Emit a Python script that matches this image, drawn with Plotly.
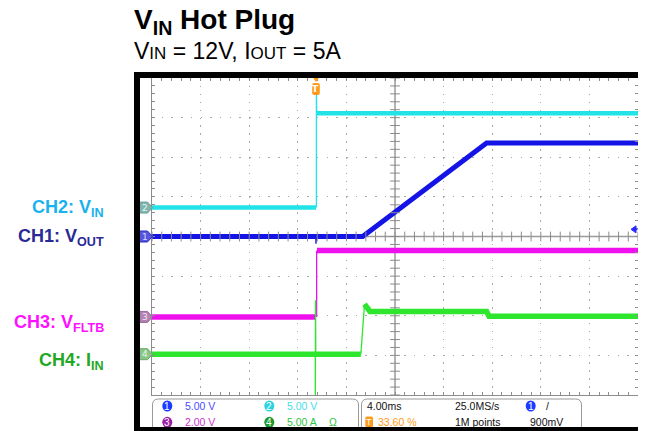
import numpy as np
import plotly.graph_objects as go

# ---------------- scope settings (from the status bar) ----------------
T_DIV_MS = 4.0            # horizontal scale, ms/div
TRIG_POS = 0.336          # trigger position, 33.60 %
N_XDIV, N_YDIV = 10, 8
TRIG_LEVEL_V = 0.9        # CH1 trigger level, 900 mV

CH_SCALES = [5.0, 5.0, 2.0, 5.0]          # CH1 V/div, CH2 V/div, CH3 V/div, CH4 A/div
CH_OFFSETS = [0.0, 0.73, -2.03, -2.97]    # ground marker position, divisions from centre
CH_SCALE_LABELS = ["5.00 V", "5.00 V", "2.00 V", "5.00 A"]

# ---------------- waveforms (time in ms, values in V / A) ----------------
# CH1: VOUT
vout_t = [-13.44, 3.9, 14.1, 26.56]
vout_v = [0.0, 0.0, 11.8, 11.8]
vout_edge_t = [0.05, 0.05, 0.1]
vout_edge_v = [0.0, -0.9, 0.0]
# CH2: VIN
vin_t = [-13.44, 0.06, None, 0.12, 26.56]
vin_v = [0.0, 0.0, None, 11.9, 11.9]
vin_edge_t = [0.09, 0.09, 0.12]
vin_edge_v = [0.0, 14.2, 11.9]
# CH3: VFLTB
fltb_t = [-13.44, 0.06, None, 0.14, 26.56]
fltb_v = [0.0, 0.0, None, 3.35, 3.35]
fltb_edge_t = [0.11, 0.11]
fltb_edge_v = [0.0, 3.35]
# CH4: IIN
iin_t = [-13.44, 3.75, None, 4.05, 4.5, 14.1, 14.3, 26.56]
iin_v = [0.0, 0.0, None, 6.3, 5.4, 5.4, 4.8, 4.8]
iin_edge_t = [0.0, 0.0, 0.02, 0.04, None, 3.75, 4.05]
iin_edge_v = [0.0, -8.0, 6.8, 0.0, None, 0.0, 6.3]

# ---------------- layout geometry (page pixels) ----------------
W, H = 646, 431
BODY = 8                      # default page margin around the plot div
PL, PR, PT, PB = 152, 638, 78, 395


def X(px):
    return (px - PL) / (PR - PL)


def Y(py):
    return (PB - py) / (PB - PT)


t_start = -TRIG_POS * N_XDIV * T_DIV_MS
t_end = t_start + N_XDIV * T_DIV_MS


def yrange(scale, off):
    return [(-N_YDIV / 2 - off) * scale, (N_YDIV / 2 - off) * scale]


COL_CH1 = "#1414e6"
COL_CH2 = "#22e3e8"
COL_CH3 = "#ee11ee"
COL_CH4 = "#2ee62e"
GRID = "#a8a8a8"
AXC = "#8c8c8c"

fig = go.Figure()


def add_channel(t, v, et, ev, axis, color, width):
    fig.add_trace(go.Scatter(x=t, y=v, yaxis=axis, mode="lines",
                             line=dict(color=color, width=width),
                             hoverinfo="skip", showlegend=False))
    fig.add_trace(go.Scatter(x=et, y=ev, yaxis=axis, mode="lines",
                             line=dict(color=color, width=1.3),
                             hoverinfo="skip", showlegend=False))


add_channel(vin_t, vin_v, vin_edge_t, vin_edge_v, "y2", COL_CH2, 4.5)
add_channel(vout_t, vout_v, vout_edge_t, vout_edge_v, "y", COL_CH1, 5)
add_channel(fltb_t, fltb_v, fltb_edge_t, fltb_edge_v, "y3", COL_CH3, 5.5)
add_channel(iin_t, iin_v, iin_edge_t, iin_edge_v, "y4", COL_CH4, 5.5)

# graticule centre-line tick marks
s1, o1 = CH_SCALES[0], CH_OFFSETS[0]
lo1, hi1 = yrange(s1, o1)
xt = t_start + np.arange(N_XDIV * 5 + 1) * T_DIV_MS / 5
yt = lo1 + np.arange(N_YDIV * 5 + 1) * s1 / 5
fig.add_trace(go.Scatter(x=xt, y=np.full(len(xt), (lo1 + hi1) / 2), mode="markers",
                         marker=dict(symbol="line-ns", size=7, line=dict(width=1, color=AXC)),
                         hoverinfo="skip", showlegend=False))
fig.add_trace(go.Scatter(x=np.full(len(yt), (t_start + t_end) / 2), y=yt, mode="markers",
                         marker=dict(symbol="line-ew", size=7, line=dict(width=1, color=AXC)),
                         hoverinfo="skip", showlegend=False))

xaxis = dict(range=[t_start, t_end], tick0=t_start, dtick=T_DIV_MS,
             showgrid=True, gridcolor=GRID, gridwidth=1, griddash="1.5px,6.4px",
             showline=True, linecolor=AXC, linewidth=1, mirror="allticks",
             ticks="inside", ticklen=3, tickcolor=AXC,
             minor=dict(dtick=T_DIV_MS / 5, tick0=t_start, ticks="inside", ticklen=3,
                        tickcolor=AXC, showgrid=False),
             showticklabels=False, zeroline=False, fixedrange=True)
yaxis = dict(range=[lo1, hi1], tick0=lo1, dtick=s1,
             showgrid=True, gridcolor=GRID, gridwidth=1, griddash="1.5px,8.2px",
             showline=True, linecolor=AXC, linewidth=1, mirror="allticks",
             ticks="inside", ticklen=3, tickcolor=AXC,
             minor=dict(dtick=s1 / 5, tick0=lo1, ticks="inside", ticklen=3,
                        tickcolor=AXC, showgrid=False),
             showticklabels=False, zeroline=False, fixedrange=True)

layout_axes = dict(xaxis=xaxis, yaxis=yaxis)
for i in (1, 2, 3):
    layout_axes["yaxis%d" % (i + 1)] = dict(range=yrange(CH_SCALES[i], CH_OFFSETS[i]),
                                            overlaying="y", visible=False, fixedrange=True)

shapes = []
annotations = []

# centre cross lines
shapes.append(dict(type="line", xref="paper", yref="paper", x0=0.5, x1=0.5, y0=0, y1=1,
                   line=dict(color="#9a9a9a", width=1.5), layer="below"))
shapes.append(dict(type="line", xref="paper", yref="paper", x0=0, x1=1, y0=0.5, y1=0.5,
                   line=dict(color="#9a9a9a", width=1.5), layer="below"))


def path(points, close=True):
    s = "M " + " L ".join("%.5f,%.5f" % (X(px), Y(py)) for px, py in points)
    return s + (" Z" if close else "")


def rrect(x0, y0, x1, y1, r):
    p = lambda px, py: "%.5f,%.5f" % (X(px), Y(py))
    return ("M " + p(x0 + r, y0) + " L " + p(x1 - r, y0) + " Q " + p(x1, y0) + " " + p(x1, y0 + r) +
            " L " + p(x1, y1 - r) + " Q " + p(x1, y1) + " " + p(x1 - r, y1) +
            " L " + p(x0 + r, y1) + " Q " + p(x0, y1) + " " + p(x0, y1 - r) +
            " L " + p(x0, y0 + r) + " Q " + p(x0, y0) + " " + p(x0 + r, y0) + " Z")


# channel ground flags on the left edge
flag_fill = ["#5656dc", "#80b4ae", "#b283b2", "#88c688"]
flag_line = ["#2a2ac8", "#6a9e98", "#9a6a9a", "#6aaa6a"]
flag_txt = ["#d8d8ff", "#e8f6f4", "#f4e4f4", "#e8f6e8"]
for i in range(4):
    gy = PB - (0.5 + CH_OFFSETS[i] / N_YDIV) * (PB - PT)
    shapes.append(dict(type="path", xref="paper", yref="paper",
                       path=path([(139.5, gy - 5.5), (147.5, gy - 5.5), (152.5, gy),
                                  (147.5, gy + 5.5), (139.5, gy + 5.5)]),
                       fillcolor=flag_fill[i], line=dict(color=flag_line[i], width=1)))
    annotations.append(dict(xref="paper", yref="paper", x=X(144.5), y=Y(gy), text=str(i + 1),
                            showarrow=False, font=dict(family="DejaVu Sans", size=9, color=flag_txt[i]),
                            xanchor="center", yanchor="middle"))

# trigger position marker (top)
tx = PL + TRIG_POS * (PR - PL) + 0.7
shapes.append(dict(type="path", xref="paper", yref="paper",
                   path=path([(tx - 3.5, 77), (tx + 3.5, 77), (tx, 82)]),
                   fillcolor="#ff9a1a", line=dict(width=0)))
shapes.append(dict(type="path", xref="paper", yref="paper", path=rrect(tx - 3.8, 83, tx + 3.8, 95, 2),
                   fillcolor="#ff9a1a", line=dict(width=0)))
annotations.append(dict(xref="paper", yref="paper", x=X(tx), y=Y(89.3), text="<b>T</b>",
                        showarrow=False, font=dict(family="DejaVu Sans", size=9, color="white"),
                        xanchor="center", yanchor="middle"))

# trigger level marker (right)
ly = PB - (0.5 + (TRIG_LEVEL_V / s1 + o1) / N_YDIV) * (PB - PT)
shapes.append(dict(type="path", xref="paper", yref="paper",
                   path=path([(631, ly), (636, ly - 3.5), (636, ly + 3.5)]),
                   fillcolor="#2a2aff", line=dict(color="#2a2aff", width=1)))
shapes.append(dict(type="line", xref="paper", yref="paper", x0=X(634), x1=X(637.5), y0=Y(ly), y1=Y(ly),
                   line=dict(color="#2a2aff", width=1.5)))

# status bar boxes
shapes.append(dict(type="path", xref="paper", yref="paper", path=rrect(152.5, 399, 358.5, 436, 6),
                   fillcolor="white", line=dict(color="#9a9a9a", width=1)))
shapes.append(dict(type="path", xref="paper", yref="paper", path=rrect(361.5, 399, 581.5, 436, 6),
                   fillcolor="white", line=dict(color="#9a9a9a", width=1)))

# channel badges in status bar
badge_pos = [(167.3, 406), (269.3, 406), (167.3, 422.3), (269.3, 422.3)]
badge_col = ["#1a3cff", "#2bd3e0", "#9a1fa4", "#1c9a2c"]
scale_txt_col = ["#4a4aff", "#3fe0e6", "#cc33cc", "#2fc23f"]
STAT = "Liberation Sans, Arial, sans-serif"
STAT_SIZE = 10.5
for i in range(4):
    bx, by = badge_pos[i]
    shapes.append(dict(type="circle", xref="paper", yref="paper",
                       x0=X(bx - 5), x1=X(bx + 5), y0=Y(by - 5.5), y1=Y(by + 5.5),
                       fillcolor=badge_col[i], line=dict(width=0)))
    annotations.append(dict(xref="paper", yref="paper", x=X(bx), y=Y(by), text=str(i + 1),
                            showarrow=False, font=dict(family=STAT, size=10, color="white"),
                            xanchor="center", yanchor="middle"))
    annotations.append(dict(xref="paper", yref="paper", x=X(bx + 15.5), y=Y(by), text=CH_SCALE_LABELS[i],
                            showarrow=False, font=dict(family=STAT, size=STAT_SIZE, color=scale_txt_col[i]),
                            xanchor="left", yanchor="middle"))
annotations.append(dict(xref="paper", yref="paper", x=X(327), y=Y(422.3), text="Ω",
                        showarrow=False, font=dict(family=STAT, size=STAT_SIZE, color="#2fc23f"),
                        xanchor="left", yanchor="middle"))

# timebase box
status_items = [
    ("%.2fms" % T_DIV_MS, 365, 406, "#111111"),
    ("25.0MS/s", 453, 406, "#111111"),
    ("1M points", 453, 422.3, "#111111"),
    ("%.0fmV" % (TRIG_LEVEL_V * 1000), 528, 422.3, "#111111"),
    ("%.2f %%" % (TRIG_POS * 100), 376, 422.3, "#ff9a1a"),
    ("/", 544, 406, "#111111"),
]
for txt, px, py, col in status_items:
    annotations.append(dict(xref="paper", yref="paper", x=X(px), y=Y(py), text=txt,
                            showarrow=False, font=dict(family=STAT, size=STAT_SIZE, color=col),
                            xanchor="left", yanchor="middle"))
shapes.append(dict(type="path", xref="paper", yref="paper", path=rrect(365.3, 416.5, 373, 427, 1.5),
                   fillcolor="#ff9a1a", line=dict(width=0)))
annotations.append(dict(xref="paper", yref="paper", x=X(369.2), y=Y(421.8), text="T",
                        showarrow=False, font=dict(family=STAT, size=9, color="white"),
                        xanchor="center", yanchor="middle"))
shapes.append(dict(type="circle", xref="paper", yref="paper",
                   x0=X(525.7), x1=X(535.7), y0=Y(400.5), y1=Y(411.5),
                   fillcolor="#1a3cff", line=dict(width=0)))
annotations.append(dict(xref="paper", yref="paper", x=X(530.7), y=Y(406), text="1",
                        showarrow=False, font=dict(family=STAT, size=10, color="white"),
                        xanchor="center", yanchor="middle"))

# black scope frame
for x0, y0, x1, y1 in [(134, 72, 140, 431), (134, 72, 646, 78), (639.5, 72, 646, 431), (134, 427, 646, 431)]:
    shapes.append(dict(type="rect", xref="paper", yref="paper", x0=X(x0), x1=X(x1), y0=Y(y1), y1=Y(y0),
                       fillcolor="black", line=dict(width=0)))

# titles
ARIAL = "Liberation Sans, Arial, sans-serif"
annotations.append(dict(xref="paper", yref="paper", x=X(132), y=Y(22), xanchor="left", yanchor="middle",
                        text="<b>V<sub>IN</sub> Hot Plug</b>", showarrow=False,
                        font=dict(family=ARIAL, size=28, color="black")))
annotations.append(dict(xref="paper", yref="paper", x=X(132), y=Y(51), xanchor="left", yanchor="middle",
                        text="V<span style='font-size:17px'>IN</span> = 12V, I<span style='font-size:17px'>OUT</span> = 5A",
                        showarrow=False, font=dict(family=ARIAL, size=23, color="black")))

# channel labels
labels = [("CH2: V<sub>IN</sub>", 208, "#1ab2ee"), ("CH1: V<sub>OUT</sub>", 237, "#2a2a96"),
          ("CH3: V<sub>FLTB</sub>", 323, "#ff10ff"), ("CH4: I<sub>IN</sub>", 361.7, "#22a822")]
for txt, py, col in labels:
    annotations.append(dict(xref="paper", yref="paper", x=X(105.5), y=Y(py), xanchor="right", yanchor="middle",
                            text="<b>" + txt + "</b>", showarrow=False,
                            font=dict(family=ARIAL, size=18, color=col)))

fig.update_layout(width=W - BODY, height=H - BODY,
                  margin=dict(l=PL - BODY, r=W - PR, t=PT - BODY, b=H - PB),
                  paper_bgcolor="white", plot_bgcolor="white", showlegend=False,
                  shapes=shapes, annotations=annotations, **layout_axes)

fig.write_html("out.html")
